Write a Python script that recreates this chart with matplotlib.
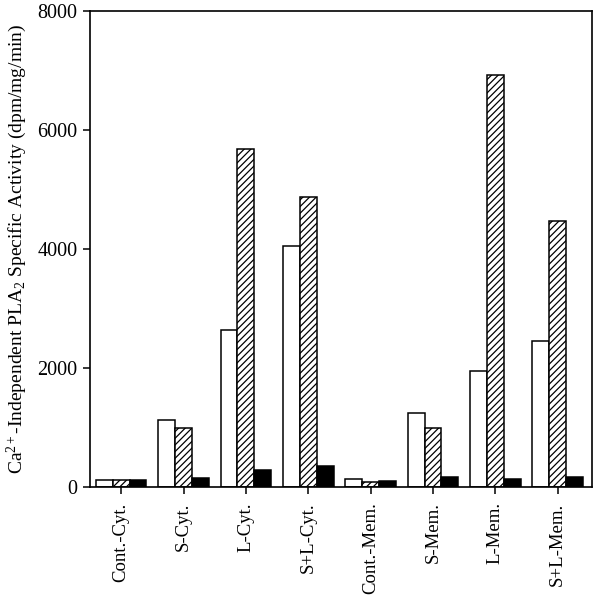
import matplotlib
matplotlib.use("Agg")
import matplotlib.pyplot as plt
import numpy as np

# ─── data ────────────────────────────────────────────────────────────────────
categories = ["Cont.-Cyt.", "S-Cyt.", "L-Cyt.", "S+L-Cyt.",
              "Cont.-Mem.", "S-Mem.", "L-Mem.", "S+L-Mem."]
open_vals    = [115, 1125, 2640, 4050, 130, 1250, 1950, 2455]
hatched_vals = [110, 985, 5680, 4875, 90, 985, 6925, 4470]
solid_vals   = [120, 150, 285, 355, 105, 170, 135, 165]
y_ticks = [0, 2000, 4000, 6000, 8000]

plt.rcParams["font.family"] = ["Liberation Serif", "DejaVu Serif"]
plt.rcParams["mathtext.fontset"] = "custom"
plt.rcParams["mathtext.rm"] = "Liberation Serif"
plt.rcParams["mathtext.it"] = "Liberation Serif:italic"
plt.rcParams["hatch.linewidth"] = 0.9

fig = plt.figure(figsize=(6.01, 5.98), dpi=100)
ax = fig.add_axes([0.1498, 0.1856, 0.985 - 0.1498, 0.9816 - 0.1856])

x = np.arange(len(categories))
w = 0.27
ax.bar(x - w, open_vals, w, color="white", edgecolor="black", linewidth=1.1)
ax.bar(x, hatched_vals, w, color="white", edgecolor="black", linewidth=1.1,
       hatch="/////")
ax.bar(x + w, solid_vals, w, color="black", edgecolor="black", linewidth=1.1)

ax.set_xlim(-0.5, 7.55)
ax.set_ylim(0, 8000)
ax.set_yticks(y_ticks)
ax.set_yticklabels([str(v) for v in y_ticks], fontsize=14.5)
ax.set_xticks(x)
ax.set_xticklabels(categories, rotation=90, fontsize=13.5)
ax.tick_params(direction="out", length=5, width=1.1, top=False, right=False)
ax.tick_params(axis="x", pad=6)
ax.tick_params(axis="y", pad=4)
for sp in ax.spines.values():
    sp.set_linewidth(1.2)

ax.set_ylabel("Ca$^{2+}$-Independent PLA$_2$ Specific Activity (dpm/mg/min)",
              fontsize=14, labelpad=6)

fig.savefig("out.png", dpi=100)
